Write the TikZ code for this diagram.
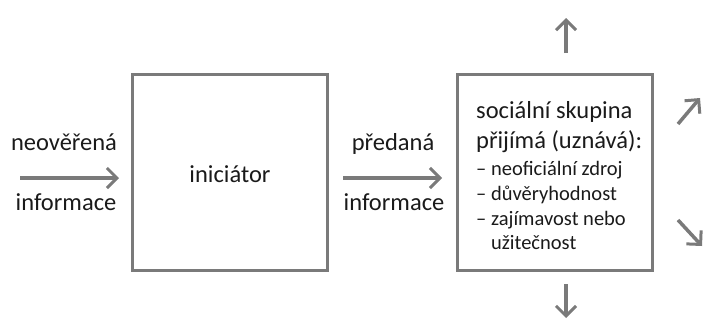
\documentclass[tikz,border=0pt]{standalone}
\usepackage{fontspec}
\setmainfont{Carlito}
\usetikzlibrary{arrows.meta}
\definecolor{linegray}{HTML}{7A7A7A}
\definecolor{txt}{HTML}{1A1A1A}
\tikzset{
  box/.style={draw=linegray, line width=3pt, minimum width=195pt, minimum height=196pt, inner sep=0pt},
  flow/.style={draw=linegray, line width=3.5pt, -{Straight Barb[length=10pt,width=20pt,line width=3pt]}},
  lbl/.style={text=txt, font=\fontsize{24.5}{28}\selectfont, inner sep=0pt, anchor=base},
  big/.style={text=txt, font=\fontsize{24.5}{28}\selectfont, inner sep=0pt, anchor=base west},
  small/.style={text=txt, font=\fontsize{20.5}{24}\selectfont, inner sep=0pt, anchor=base west},
}
\begin{document}
\begin{tikzpicture}[x=1pt,y=-1pt]
\useasboundingbox (0,0) rectangle (703,324);
\node[box] (ini) at (229.5,172) {};
\node[lbl] (it) at (230,182) {iniciátor};
\node[box] (grp) at (554.5,172) {};
\node[big] (g1) at (476,118) {sociální skupina};
\node[big] (g2) at (476,148) {přijímá (uznává):};
\node[small] (g3) at (476,175) {– neoficiální zdroj};
\node[small] (g4) at (476,200) {– důvěryhodnost};
\node[small] (g5) at (476,225) {– zajímavost nebo};
\node[small] (g6) at (476,249) {\phantom{– }užitečnost};
\coordinate (a1s) at (20,178);
\coordinate (a1e) at (119,178);
\coordinate (a2s) at (343,178);
\coordinate (a2e) at (442,178);
\draw[flow] (a1s) -- (a1e);
\draw[flow] (a2s) -- (a2e);
\node[lbl] (l1a) at (64,150) {neověřená};
\node[lbl] (l1b) at (66,210) {informace};
\node[lbl] (l2a) at (393,150) {předaná};
\node[lbl] (l2b) at (394,210) {informace};
\coordinate (ups) at (566,53);
\coordinate (up) at (566,18);
\coordinate (dns) at (566,284);
\coordinate (dn) at (566,318);
\coordinate (urs) at (678,124);
\coordinate (ur) at (700,98);
\coordinate (drs) at (678,220);
\coordinate (dr) at (702,246);
\draw[flow] (ups) -- (up);
\draw[flow] (dns) -- (dn);
\draw[flow] (urs) -- (ur);
\draw[flow] (drs) -- (dr);
\end{tikzpicture}
\end{document}
